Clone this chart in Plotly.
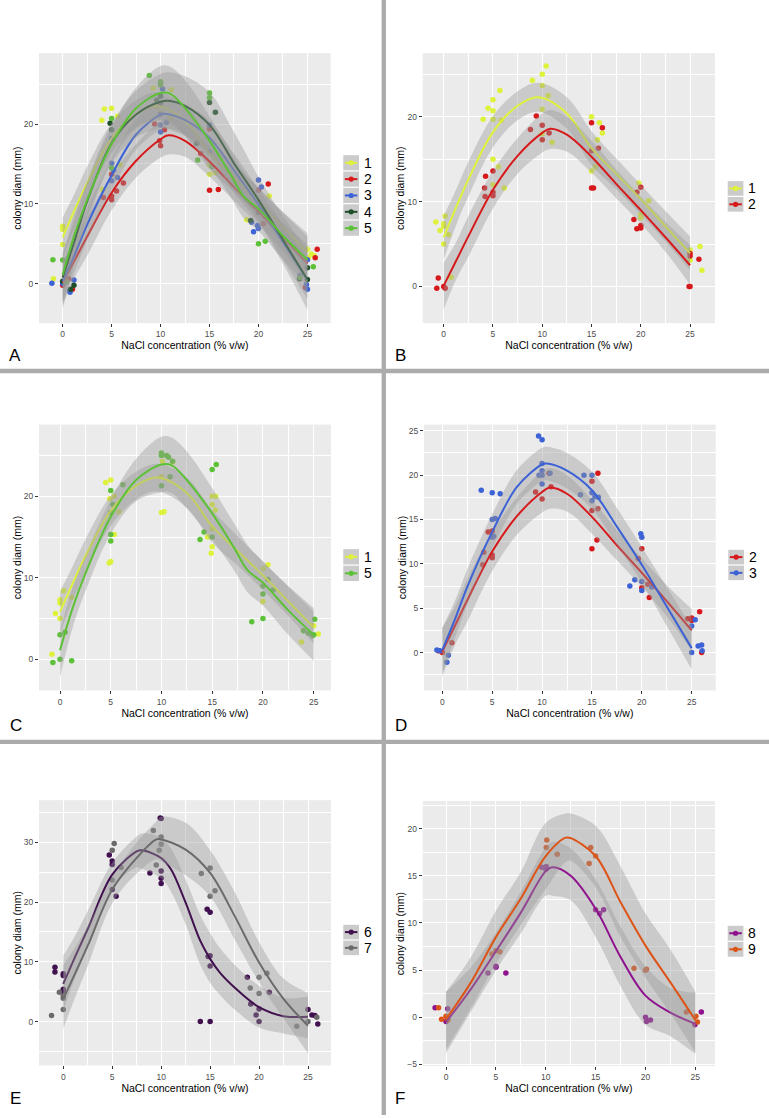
import plotly.graph_objects as go

W, H = 769, 1118

# ---------------- series colours ----------------
series_names = ["1", "2", "3", "4", "5", "6", "7", "8", "9"]
series_colors = ["#DFF23B", "#D7191C", "#3C62D6", "#1F4F28", "#5CC136",
                 "#40104F", "#6B6B6B", "#8E118E", "#DD5418"]

# ---------------- smoothed fits ----------------
s1_fit_x = [0, 1.25, 2.5, 5, 7.5, 9.6, 12.5, 15, 17.5, 20, 22.5, 25]
s1_fit_y = [5.8, 9.3, 12.6, 18.2, 21.3, 22.3, 20.4, 16.3, 13.3, 10.3, 7.1, 3.9]
s1_fit_hi = [8.3, 11.4, 14.7, 20.1, 23.0, 24.0, 22.3, 18.3, 15.1, 12.0, 8.9, 5.9]
s1_fit_lo = [3.2, 7.2, 10.6, 16.4, 19.6, 20.6, 18.6, 14.3, 11.5, 8.5, 5.3, 1.9]

s2_fit_x = [0, 1.25, 2.5, 5, 7.5, 10, 10.8, 12.5, 15, 17.5, 20, 22.5, 25]
s2_fit_y = [0.1, 3.0, 5.9, 11.4, 15.4, 18.1, 18.6, 17.9, 15.3, 12.1, 9.0, 5.8, 2.5]
s2_fit_hi = [2.8, 5.2, 8.3, 13.6, 17.5, 20.4, 20.8, 20.0, 17.2, 13.8, 10.6, 7.6, 4.9]
s2_fit_lo = [-2.7, 0.8, 3.5, 9.2, 13.3, 15.8, 16.2, 15.9, 13.4, 10.4, 7.4, 4.1, 0.2]

s3_fit_x = [0, 1.25, 2.5, 5, 7.5, 10, 10.5, 12.5, 15, 17.5, 20, 22.5, 25]
s3_fit_y = [0.3, 3.7, 7.4, 13.6, 18.7, 21.2, 21.3, 20.5, 18.3, 14.2, 9.9, 5.2, 0.5]
s3_fit_hi = [2.8, 5.8, 9.4, 15.6, 20.6, 23.1, 23.2, 22.5, 20.4, 16.3, 11.9, 7.4, 2.9]
s3_fit_lo = [-2.3, 1.6, 5.4, 11.7, 16.8, 19.3, 19.4, 18.5, 16.2, 12.1, 7.9, 3.0, -1.9]

s4_fit_x = [0, 1.25, 2.5, 5, 7.5, 10, 11, 12.5, 15, 17.5, 20, 22.5, 25]
s4_fit_y = [0.75, 5.5, 10.3, 17.6, 21.2, 22.8, 22.9, 22.3, 19.9, 15.1, 10.5, 5.5, 0.5]
s4_fit_hi = [3.9, 8.0, 12.8, 20.0, 24.2, 26.3, 26.5, 26.0, 24.0, 19.0, 13.4, 8.5, 4.2]
s4_fit_lo = [-3.2, 2.8, 7.6, 15.1, 18.3, 19.5, 19.4, 18.7, 16.0, 11.4, 7.6, 2.5, -3.3]

s5_fit_x = [0, 1.25, 2.5, 5, 7.5, 10, 11, 12.5, 15, 17.1, 18.5, 20, 22.5, 25]
s5_fit_y = [1.1, 6.3, 10.5, 17.5, 22.0, 23.9, 23.8, 22.0, 17.9, 13.8, 10.9, 9.4, 6.0, 3.0]
s5_fit_hi = [3.5, 8.8, 12.7, 19.6, 24.6, 27.3, 27.2, 25.5, 21.0, 16.8, 14.0, 12.0, 9.0, 6.3]
s5_fit_lo = [-2.2, 3.9, 8.3, 15.4, 19.4, 20.5, 20.4, 18.5, 14.7, 11.0, 8.2, 6.6, 3.0, -0.2]

s6_fit_x = [0, 1.25, 2.5, 5, 7.5, 8, 10, 11, 12.5, 14, 15, 16, 17.5, 20, 22.5, 25]
s6_fit_y = [6.3, 11.0, 15.5, 24.6, 28.5, 28.7, 27.4, 25.5, 19.9, 13.5, 10.5, 8.2, 5.7, 2.4, 0.9, 0.8]
s6_fit_hi = [11.0, 14.5, 18.5, 26.6, 31.0, 31.5, 30.8, 29.0, 23.8, 17.8, 14.8, 12.3, 9.5, 6.0, 4.0, 4.2]
s6_fit_lo = [1.8, 7.5, 12.5, 22.3, 25.8, 25.6, 24.0, 21.8, 16.3, 9.5, 6.5, 4.5, 2.0, -1.0, -2.0, -2.8]

s7_fit_x = [0, 1.25, 2.5, 5, 7.5, 9.5, 10, 12.5, 15, 17.5, 20, 22.5, 25]
s7_fit_y = [3.8, 8.2, 12.7, 22.1, 27.4, 30.5, 30.5, 28.8, 24.9, 17.7, 9.9, 3.8, -0.7]
s7_fit_hi = [9.5, 12.5, 16.0, 24.2, 30.0, 33.5, 34.3, 33.3, 28.7, 21.7, 13.3, 7.2, 4.8]
s7_fit_lo = [-1.2, 4.2, 9.3, 19.8, 24.8, 27.2, 26.8, 24.5, 21.0, 13.8, 6.6, 0.5, -5.3]

s8_fit_x = [0, 2.5, 5, 7.5, 10, 10.7, 12.5, 15, 17.5, 20, 22.5, 25]
s8_fit_y = [-0.5, 3.0, 7.0, 11.1, 15.5, 15.9, 15.0, 11.5, 6.4, 2.3, 0.5, -0.7]
s8_fit_hi = [2.7, 5.3, 9.0, 13.3, 18.0, 18.6, 17.9, 14.6, 9.6, 5.4, 3.1, 2.6]
s8_fit_lo = [-3.8, 0.6, 5.0, 8.9, 12.9, 12.9, 12.4, 8.5, 3.3, -0.8, -2.0, -3.9]

s9_fit_x = [0, 2.5, 5, 7.5, 10, 12, 12.5, 15, 17.5, 20, 22.5, 25]
s9_fit_y = [-0.2, 3.7, 8.5, 12.6, 17.1, 19.05, 19.0, 17.1, 12.2, 7.6, 3.7, -0.3]
s9_fit_hi = [2.7, 6.4, 11.3, 15.4, 20.6, 21.6, 21.6, 20.3, 16.0, 11.0, 7.2, 2.7]
s9_fit_lo = [-3.4, 1.0, 5.7, 9.8, 13.6, 16.5, 16.6, 13.8, 8.5, 4.2, 0.4, -3.7]

# ---------------- jittered observations per panel ----------------
A1_x = [-0.95, 0, 0, 0, 4.0, 4.25, 5, 5.6, 5.85, 4.05, 9.25, 11.1, 9.6, 10.0, 11.0, 15, 15.6, 15, 18.8, 21.1, 25, 25.4, 25.7, 25.1]
A1_y = [0.6, 7.2, 6.8, 4.9, 20.5, 21.9, 22, 21, 14.9, 11.8, 24.5, 24.3, 22.2, 21.5, 20.7, 13.7, 13.9, 14.9, 8.0, 11.0, 4.3, 3.7, 3.5, 3.25]
A2_x = [0, 1.0, 0.6, 4.15, 5.0, 5, 5, 5.5, 6.2, 9.9, 10, 10.4, 9.4, 14.1, 15, 15.9, 15, 20, 21, 20.5, 26, 25.8, 24.8]
A2_y = [-0.2, -0.7, 0.6, 10.8, 11.0, 10.5, 13.7, 11.6, 12.6, 17.9, 17.3, 19.3, 20.0, 16.3, 11.7, 11.8, 19.4, 11.7, 12.5, 7.5, 4.3, 3.25, -0.5]
A3_x = [-1.1, 0, 0.7, 0.75, 1.15, 5, 5, 5.2, 5.6, 5, 10.2, 10, 10, 10.6, 10, 15, 15, 20, 20.3, 19.5, 19.3, 20, 19.9, 24.9, 25, 25, 24.25]
A3_y = [0.05, 0, -0.9, -1.1, 0.45, 15.1, 12.9, 14.2, 13.3, 18.2, 24.4, 19.0, 19.9, 20.2, 21.25, 19.9, 16.5, 13.0, 12.1, 6.5, 7.7, 6.9, 7.3, -0.1, -0.7, 3.0, 1.0]
A4_x = [0, 1.15, 0.8, 4.85, 5, 9.6, 10, 10, 15, 15.6, 13.7, 19.2, 20, 24.2, 25, 25]
A4_y = [0.3, -0.2, -0.7, 20.1, 19.3, 23.0, 23.5, 22.6, 22.7, 21.5, 17.6, 7.9, 8.9, 0.6, 2.0, 0.5]
A5_x = [-1, 0, 0.4, 5, 5, 8.85, 10, 10, 10, 15, 15, 13.8, 15.25, 20, 20.7, 25.6, 24.25]
A5_y = [3.0, 2.96, 0.2, 20.7, 14.5, 26.1, 25.3, 25.1, 24.9, 23.9, 23.3, 15.5, 14.7, 5.0, 5.3, 2.1, 0.75]

B1_x = [-0.8, -0.37, 0, 0, 0, 0.15, 0.5, 0.75, 4.0, 4.5, 5, 5, 5, 5.7, 5.55, 5, 5, 6.15, 5.85, 9.0, 10, 10.4, 10, 10.6, 10, 10, 11, 15, 15.8, 16.1, 15, 15.4, 15.6, 19.8, 20, 20, 20.8, 25, 25, 26, 26.2]
B1_y = [7.6, 6.6, 7.1, 7.4, 5.0, 8.3, 6.1, 1.1, 19.7, 21.0, 22.0, 20.7, 19.7, 23.1, 14.1, 15.0, 12.0, 11.6, 19.6, 24.3, 25.0, 26.0, 23.7, 22.5, 20.9, 18.0, 17.0, 20.0, 19.3, 18.1, 13.6, 14.1, 17.3, 12.2, 8.5, 8.1, 10.1, 3.1, 4.3, 4.7, 1.9]
B2_x = [-0.7, -0.55, 0, 0.15, 4.25, 4.15, 4.2, 5, 5, 5, 9.4, 8.8, 10, 10, 10.7, 15, 16.1, 15, 15.7, 15, 15.2, 19.3, 19.6, 19.6, 20, 20, 20, 25, 24.9, 25, 25, 25.9]
B2_y = [-0.2, 1.0, 0, -0.2, 13.0, 11.6, 10.6, 13.6, 11.1, 10.7, 20.1, 18.5, 19.0, 17.3, 18.1, 19.3, 18.7, 16.0, 16.3, 11.6, 11.6, 7.9, 6.8, 11.1, 11.7, 7.2, 6.9, 0, 0, 3.6, 3.9, 3.2]

C1_x = [-0.8, -0.45, 0, 0, 0, 0.35, 1.15, 4.5, 5, 4.85, 5, 5.35, 4.9, 5.35, 5.8, 10, 10.25, 10.1, 11.1, 10, 15, 15.35, 15, 15, 14.9, 15.3, 15, 14.55, 20.5, 20.05, 20, 23.8, 25, 25.45]
C1_y = [0.6, 5.6, 7.3, 6.9, 5.0, 8.4, 7.6, 21.7, 22.0, 11.8, 12.0, 15.3, 19.7, 20.0, 18.1, 18.0, 18.1, 24.3, 24.2, 22.4, 20.0, 20.0, 19.0, 13.8, 13.0, 18.3, 16.0, 15.0, 11.6, 11.1, 7.1, 2.1, 4.1, 3.1]
C5_x = [-0.7, 0, 0, 0.5, 1.15, 5, 5, 5, 5.2, 5, 6.2, 10, 10, 10, 10.5, 10.7, 10.85, 11.1, 13.8, 14.2, 15, 15.4, 15, 18.9, 20, 20, 20, 20.5, 21, 24, 24.5, 25, 25.1, 24.9]
C5_y = [-0.4, 3.0, 0, 3.3, -0.2, 20.7, 15.3, 14.5, 19.0, 18.0, 21.4, 25.3, 25.0, 21.3, 25.0, 24.8, 22.4, 24.3, 14.7, 15.6, 23.3, 23.9, 15.0, 4.6, 8.0, 5.0, 9.0, 9.8, 8.5, 3.5, 3.2, 3.0, 4.9, 2.9]

D2_x = [-0.4, 0, 0.95, 4.15, 4.05, 4.6, 5, 5, 5, 9.35, 10, 10.7, 10.9, 15, 15, 15.6, 15.6, 15.5, 15, 20, 19.65, 20, 20.6, 20.75, 24.6, 25, 25, 25.8, 26]
D2_y = [0.2, 0, 1.1, 11.3, 9.9, 13.6, 13.7, 11.0, 10.7, 18.1, 17.3, 20.2, 18.7, 19.3, 16.0, 20.2, 16.2, 12.7, 11.7, 11.7, 10.6, 7.3, 7.7, 6.2, 3.8, 3.9, 3.6, 4.6, 0]
D3_x = [-0.55, -0.25, 0.45, 0.6, 3.9, 5, 5.8, 5, 5.3, 5, 5.15, 9.65, 10, 10, 10, 9.7, 10, 10, 10.8, 13.85, 14.2, 15, 15, 15, 15.3, 15.65, 19.9, 20, 18.8, 19.3, 20, 20, 21, 25, 25, 25.35, 25.65, 26, 26.05]
D3_y = [0.3, 0.2, -1.1, -0.3, 18.3, 18.0, 17.9, 15.0, 15.1, 13.0, 13.1, 24.4, 24.0, 21.3, 20.5, 20.0, 20.0, 19.0, 20.2, 17.8, 20.0, 20.0, 18.0, 17.1, 17.6, 17.5, 13.4, 13.0, 7.5, 8.2, 8.0, 7.0, 7.4, 3.0, 0, 3.7, 0.75, 0.85, 0.2]

E6_x = [-0.85, -0.85, 0, 0, 0, 0, 4.7, 5, 5, 5, 5.4, 8.85, 10, 10, 10, 9.9, 10, 14, 15, 14.7, 15, 15, 15, 14.8, 18.8, 19.15, 19.7, 20, 20, 21.05, 25, 25.4, 25.7, 26]
E6_y = [9.1, 8.3, 8.0, 7.7, 5.4, 5.0, 27.9, 26.9, 26.3, 22.1, 21.0, 24.9, 25.2, 24.0, 23.1, 34.1, 34.0, 0, 0, 18.8, 18.3, 11.0, 9.3, 10.9, 7.4, 2.95, 1.1, 2.1, 0, 4.9, 2.0, 1.1, 1.0, -0.4]
E7_x = [-1.2, -0.4, 0, 0, 0, 5, 5.2, 5, 5.9, 9.2, 9.5, 9.8, 10, 10, 14.1, 15, 15, 15.5, 19.1, 20, 20, 20.8, 23.85, 25, 25.9]
E7_y = [1.0, 4.9, 4.3, 3.9, 2.0, 28.7, 29.8, 23.7, 25.8, 32.0, 26.2, 28.7, 29.7, 30.9, 24.8, 25.7, 21.0, 21.9, 5.6, 7.4, 4.7, 8.1, -0.8, 0, 0.7]

F8_x = [-1.1, 0, 0.17, 4.2, 5, 5, 6.0, 9.6, 10, 10.05, 15, 15.4, 15.8, 20, 20.1, 20.5, 24.95, 25.6]
F8_y = [1.0, -0.45, 0.9, 4.7, 5.4, 5.3, 4.7, 15.9, 15.7, 16.0, 11.4, 11.0, 11.4, 0, -0.45, -0.3, -0.8, 0.55]
F9_x = [-0.75, -0.45, 0, 0.2, 4.6, 5, 5.4, 10.05, 10.1, 11.15, 14.35, 14.5, 15, 18.85, 20, 20.1, 24.1, 25.05, 25.2]
F9_y = [1.0, -0.2, 0.1, -0.3, 6.7, 7.05, 6.95, 18.0, 18.8, 17.3, 16.3, 18.0, 17.1, 5.2, 5.0, 5.1, 0.55, 0.1, -0.5]

# ---------------- text ----------------
x_title = "NaCl concentration (% v/w)"
y_title = "colony diam (mm)"
panel_letters = ["A", "B", "C", "D", "E", "F"]

fits = {
    1: (s1_fit_x, s1_fit_y, s1_fit_lo, s1_fit_hi),
    2: (s2_fit_x, s2_fit_y, s2_fit_lo, s2_fit_hi),
    3: (s3_fit_x, s3_fit_y, s3_fit_lo, s3_fit_hi),
    4: (s4_fit_x, s4_fit_y, s4_fit_lo, s4_fit_hi),
    5: (s5_fit_x, s5_fit_y, s5_fit_lo, s5_fit_hi),
    6: (s6_fit_x, s6_fit_y, s6_fit_lo, s6_fit_hi),
    7: (s7_fit_x, s7_fit_y, s7_fit_lo, s7_fit_hi),
    8: (s8_fit_x, s8_fit_y, s8_fit_lo, s8_fit_hi),
    9: (s9_fit_x, s9_fit_y, s9_fit_lo, s9_fit_hi),
}

# layout of the six panels (pixel boxes), axis ranges, legends
panels = [
    dict(box=(39, 330.7, 53.3, 324), xr=[-2.42, 27.38], yr=[-4.96, 28.9], ydt=10,
         pts=[(1, A1_x, A1_y), (2, A2_x, A2_y), (3, A3_x, A3_y), (4, A4_x, A4_y), (5, A5_x, A5_y)],
         leg=(343.3, 155, 16.4), letter=(15, 356)),
    dict(box=(422.7, 715, 53.3, 324), xr=[-2.13, 27.53], yr=[-4.32, 27.5], ydt=10,
         pts=[(1, B1_x, B1_y), (2, B2_x, B2_y)],
         leg=(727.7, 181, 15.9), letter=(400, 356)),
    dict(box=(39, 331, 425.7, 692.3), xr=[-2.07, 26.71], yr=[-3.83, 28.8], ydt=10,
         pts=[(1, C1_x, C1_y), (5, C5_x, C5_y)],
         leg=(343.3, 550, 16.6), letter=(15.5, 727.5)),
    dict(box=(424, 715.7, 425.7, 692.3), xr=[-1.84, 27.41], yr=[-4.27, 25.7], ydt=5,
         pts=[(2, D2_x, D2_y), (3, D3_x, D3_y)],
         leg=(728.3, 550.7, 15.8), letter=(401, 727.5)),
    dict(box=(39, 331, 802.3, 1068.3), xr=[-2.48, 27.35], yr=[-7.35, 37.08], ydt=10,
         pts=[(6, E6_x, E6_y), (7, E7_x, E7_y)],
         leg=(343.3, 926.7, 15.8), letter=(15.5, 1101.7)),
    dict(box=(422.7, 715, 803.3, 1069), xr=[-2.34, 26.97], yr=[-5.18, 22.92], ydt=5,
         pts=[(8, F8_x, F8_y), (9, F9_x, F9_y)],
         leg=(727.7, 927.7, 16.1), letter=(399.7, 1101.7)),
]

FONT = "Liberation Sans, Arial, sans-serif"
BAND = "rgba(153,153,153,0.4)"


def px(x):
    return x / W


def py(y):
    return 1 - y / H


fig = go.Figure()
layout = dict(width=W, height=H, margin=dict(l=0, r=0, t=0, b=0),
              paper_bgcolor="white", plot_bgcolor="#EBEBEB", showlegend=False,
              font=dict(family=FONT, color="black"))
shapes = []
annotations = []

for i, p in enumerate(panels):
    n = "" if i == 0 else str(i + 1)
    xa, ya = "x" + n, "y" + n
    x0, x1, y0, y1 = p["box"]
    tickfont = dict(family=FONT, size=8.5, color="#4D4D4D")
    layout["xaxis" + n] = dict(
        domain=[px(x0), px(x1)], range=p["xr"], anchor=ya, dtick=5, tick0=0,
        showgrid=True, gridcolor="white", gridwidth=1.1, zeroline=False,
        ticks="outside", ticklen=3, tickwidth=1, tickcolor="#333333", tickfont=tickfont,
        minor=dict(dtick=2.5, tick0=0, showgrid=True, gridcolor="white", gridwidth=0.5),
        title=dict(text=x_title, font=dict(family=FONT, size=10.5, color="black"), standoff=0),
    )
    layout["yaxis" + n] = dict(
        domain=[py(y1), py(y0)], range=p["yr"], anchor=xa, dtick=p["ydt"], tick0=0,
        showgrid=True, gridcolor="white", gridwidth=1.1, zeroline=False,
        ticks="outside", ticklen=3, tickwidth=1, tickcolor="#333333", tickfont=tickfont,
        minor=dict(dtick=p["ydt"] / 2, tick0=0, showgrid=True, gridcolor="white", gridwidth=0.5),
        title=dict(text=y_title, font=dict(family=FONT, size=10.5, color="black"), standoff=0),
    )

    # observations
    for s, xs, ys in p["pts"]:
        fig.add_trace(go.Scatter(x=xs, y=ys, mode="markers", xaxis=xa, yaxis=ya,
                                 marker=dict(size=5.5, color=series_colors[s - 1]),
                                 name=series_names[s - 1], hoverinfo="x+y"))
    # smooth + confidence band, per series
    for s, _, _ in p["pts"]:
        fx, fy, flo, fhi = fits[s]
        fig.add_trace(go.Scatter(x=fx, y=flo, mode="lines", xaxis=xa, yaxis=ya,
                                 line=dict(width=0, shape="spline", color=BAND),
                                 hoverinfo="skip"))
        fig.add_trace(go.Scatter(x=fx, y=fhi, mode="lines", xaxis=xa, yaxis=ya,
                                 fill="tonexty", fillcolor=BAND,
                                 line=dict(width=0, shape="spline", color=BAND),
                                 hoverinfo="skip"))
        fig.add_trace(go.Scatter(x=fx, y=fy, mode="lines", xaxis=xa, yaxis=ya,
                                 line=dict(width=2, shape="spline", color=series_colors[s - 1]),
                                 name=series_names[s - 1]))

    # legend keys (ggplot style)
    kl, kt, step = p["leg"]
    kw = 15.7
    for j, (s, _, _) in enumerate(p["pts"]):
        top = kt + j * step
        cy = top + step / 2
        shapes.append(dict(type="rect", xref="paper", yref="paper",
                           x0=px(kl), x1=px(kl + kw), y0=py(top + step - 0.6), y1=py(top + 0.6),
                           fillcolor="#CBCBCB", line=dict(width=0), layer="above"))
        shapes.append(dict(type="line", xref="paper", yref="paper",
                           x0=px(kl + 1.6), x1=px(kl + kw - 1.6), y0=py(cy), y1=py(cy),
                           line=dict(color=series_colors[s - 1], width=2), layer="above"))
        shapes.append(dict(type="circle", xref="paper", yref="paper",
                           x0=px(kl + kw / 2 - 2.6), x1=px(kl + kw / 2 + 2.6),
                           y0=py(cy + 2.6), y1=py(cy - 2.6),
                           fillcolor=series_colors[s - 1], line=dict(width=0), layer="above"))
        annotations.append(dict(text=series_names[s - 1], xref="paper", yref="paper",
                                x=px(kl + kw + 2.5), y=py(cy), xanchor="left", yanchor="middle",
                                showarrow=False, font=dict(family=FONT, size=14, color="black")))

    lx, ly = p["letter"]
    annotations.append(dict(text=panel_letters[i], xref="paper", yref="paper",
                            x=px(lx), y=py(ly), xanchor="center", yanchor="middle",
                            showarrow=False, font=dict(family=FONT, size=17, color="black")))

# panel separators
SEP = "#ABABAB"
shapes.append(dict(type="line", xref="paper", yref="paper", x0=px(383.8), x1=px(383.8),
                   y0=0, y1=1, line=dict(color=SEP, width=4.3)))
for yy in (372, 743.8):
    shapes.append(dict(type="line", xref="paper", yref="paper", x0=0, x1=1,
                       y0=py(yy), y1=py(yy), line=dict(color=SEP, width=4.3)))

layout["shapes"] = shapes
layout["annotations"] = annotations
fig.update_layout(**layout)
fig.write_html(
    "out.html",
    config={"displayModeBar": False},
    post_script="document.documentElement.style.margin='0';document.body.style.margin='0';"
                "document.body.style.padding='0';document.body.style.overflow='hidden';",
)
